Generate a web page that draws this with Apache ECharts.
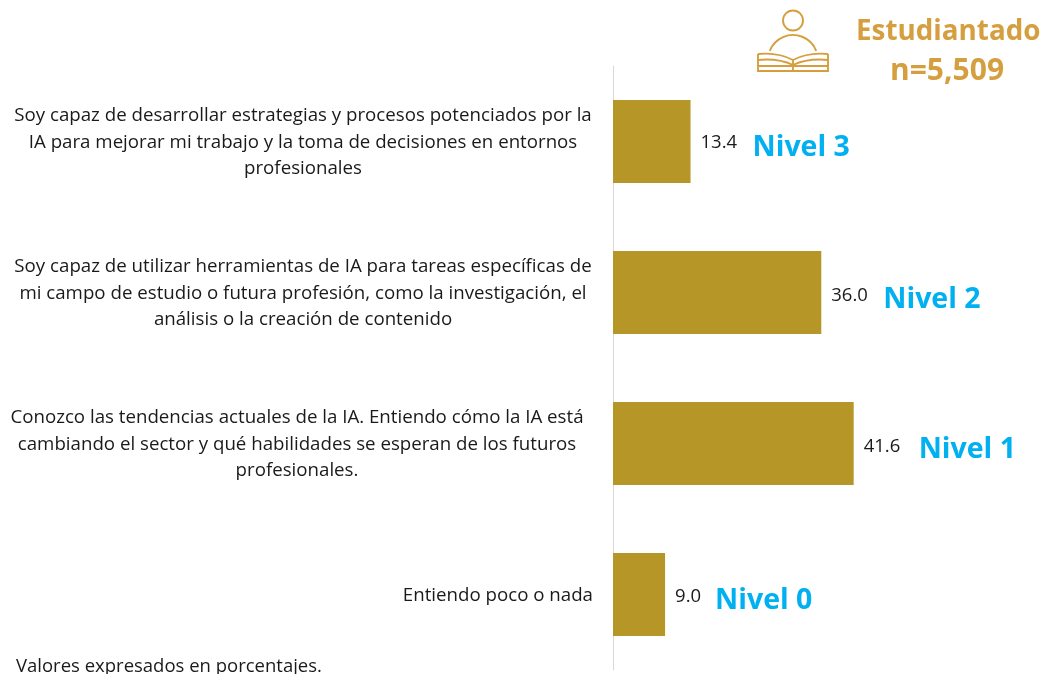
<!DOCTYPE html>
<html><head><meta charset="utf-8">
<style>html,body{margin:0;padding:0;background:#fff}#c{width:1042px;height:674px}</style>
<script src="https://cdn.jsdelivr.net/npm/echarts@6/dist/echarts.min.js"></script>
</head><body><div id="c"></div>
<script>
const categories = [
  "Soy capaz de desarrollar estrategias y procesos potenciados por la\nIA para mejorar mi trabajo y la toma de decisiones en entornos\nprofesionales",
  "Soy capaz de utilizar herramientas de IA para tareas específicas de\nmi campo de estudio o futura profesión, como la investigación, el\nanálisis o la creación de contenido",
  "Conozco las tendencias actuales de la IA. Entiendo cómo la IA está\ncambiando el sector y qué habilidades se esperan de los futuros\nprofesionales.",
  "Entiendo poco o nada"
];
const values = [13.4, 36.0, 41.6, 9.0];
const levels = ["Nivel 3", "Nivel 2", "Nivel 1", "Nivel 0"];
const levelOffsets = [[62, 6], [62, 7], [65, 6], [50, 6]];
const valueOffsets = [[0, 1], [0, 3], [0, 3], [0, 2]];
const richKeys = ["a", "a", "c", "d"];
const gold = "#D59F3F", bar = "#B79628", ink = "#1a1a1a", font = "'Open Sans'";

const chart = echarts.init(document.getElementById('c'), null, {renderer: 'canvas'});
const ss = {stroke: gold, fill: 'none', lineWidth: 1.9};
const curve = (x1, y1, cx, cy, x2, y2) => ({type: 'bezierCurve', shape: {x1, y1, cpx1: cx, cpy1: cy, x2, y2}, style: ss});
const line = pts => ({type: 'polyline', shape: {points: pts}, style: ss});
const catStyle = {fontFamily: font, fontSize: 18.7, color: ink, lineHeight: 26.5};
chart.setOption({
  animation: false,
  grid: {left: 613, top: 66, width: 405, height: 604, outerBoundsMode: 'none', containLabel: false},
  xAxis: {type: 'value', min: 0, max: 70, show: false},
  yAxis: {
    type: 'category', inverse: true, data: categories,
    axisTick: {show: false},
    axisLine: {lineStyle: {color: '#D9D9D9', width: 1}},
    axisLabel: {
      margin: 20,
      padding: [2, 0, 0, 0],
      formatter: (v, i) => v.split("\n").map(l => `{${richKeys[i]}|${l}}`).join("\n"),
      rich: {
        a: {width: 580, align: 'center', ...catStyle},
        c: {width: 592, align: 'center', ...catStyle},
        d: {...catStyle}
      }
    }
  },
  series: [
    {type: 'bar', barWidth: 83, itemStyle: {color: bar}, z: 3,
     data: values.map((v, i) => ({
       value: v,
       label: {show: true, position: 'right', distance: 10, offset: valueOffsets[i], fontFamily: font, fontSize: 18.5, color: ink,
         formatter: v.toFixed(1)}
     }))},
    {type: 'bar', barGap: '-100%', barWidth: 83, itemStyle: {color: 'transparent'}, z: 2, silent: true,
     data: values.map((v, i) => ({
       value: v,
       label: {show: true, position: 'right', distance: 0, offset: levelOffsets[i], formatter: levels[i],
         fontFamily: font, fontWeight: 'bold', fontSize: 28.5, color: '#00B0F0'}
     }))}
  ],
  graphic: [
    {type: 'text', x: 856, y: 18, style: {text: 'Estudiantado', font: `bold 27.8px ${font}`, fill: gold}},
    {type: 'text', x: 890, y: 56, style: {text: 'n=5,509', font: `bold 30px ${font}`, fill: gold}},
    {type: 'text', x: 16, y: 657, style: {text: 'Valores expresados en porcentajes.', font: `18.5px ${font}`, fill: ink}},
    {type: 'circle', shape: {cx: 793, cy: 20.5, r: 10}, style: ss},
    {type: 'arc', shape: {cx: 793, cy: 60, r: 25, startAngle: Math.PI * 1.12, endAngle: Math.PI * 1.88}, style: ss},
    curve(758, 54, 778, 52, 793, 60), curve(793, 60, 808, 52, 828, 54),
    curve(758, 60, 778, 58, 793, 65), curve(793, 65, 808, 58, 828, 60),
    line([[758, 54], [758, 71], [828, 71], [828, 54]]),
    line([[758, 66], [828, 66]]),
    line([[793, 60], [793, 71]])
  ]
});
</script></body></html>
